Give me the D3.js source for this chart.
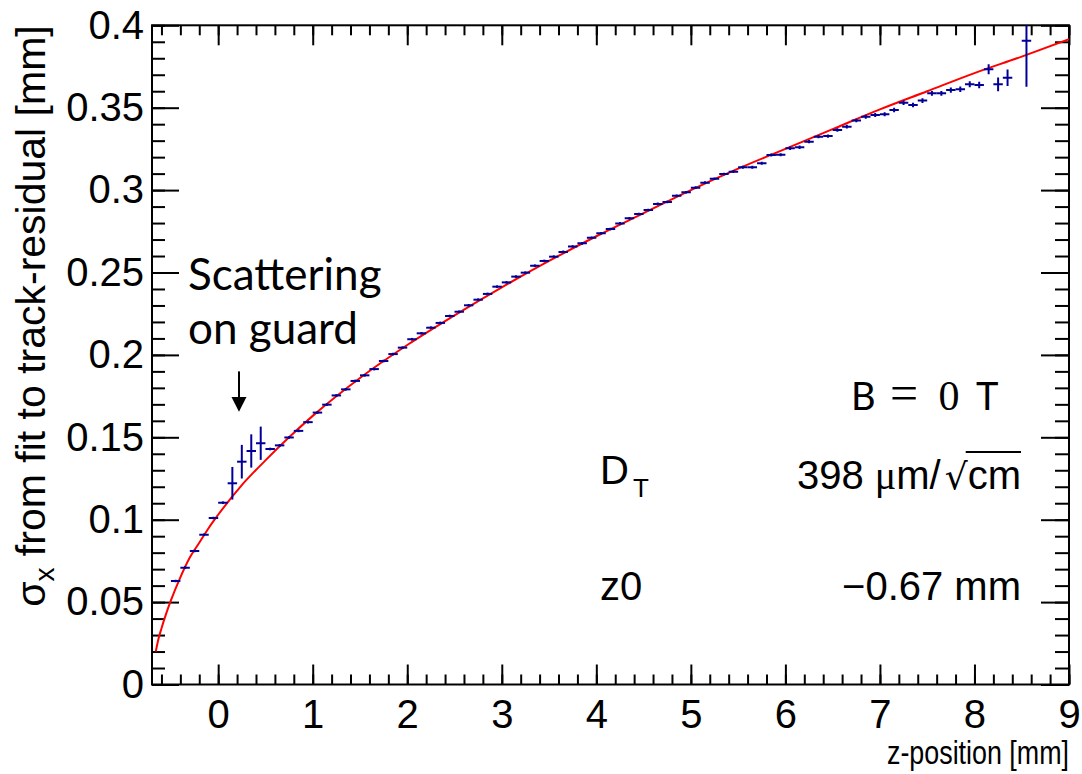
<!DOCTYPE html>
<html>
<head>
<meta charset="utf-8">
<script src="https://cdn.jsdelivr.net/npm/d3@7"></script>
<style>
  body { margin: 0; background: #fff; }
  svg { display: block; }
  .tick line { stroke: #000; stroke-width: 2; }
  .tick text { font-family: "Liberation Sans", Arial, sans-serif; font-size: 40px; fill: #000; }
</style>
</head>
<body>
<script>
// bin centres (mm) and sigma values (mm)
var zBins = [-0.45, -0.35, -0.25, -0.15, -0.05, 0.05, 0.15, 0.25, 0.35, 0.45,
  0.55, 0.65, 0.75, 0.85, 0.95, 1.05, 1.15, 1.25, 1.35, 1.45,
  1.55, 1.65, 1.75, 1.85, 1.95, 2.05, 2.15, 2.25, 2.35, 2.45,
  2.55, 2.65, 2.75, 2.85, 2.95, 3.05, 3.15, 3.25, 3.35, 3.45,
  3.55, 3.65, 3.75, 3.85, 3.95, 4.05, 4.15, 4.25, 4.35, 4.45,
  4.55, 4.65, 4.75, 4.85, 4.95, 5.05, 5.15, 5.25, 5.35, 5.45,
  5.55, 5.65, 5.75, 5.85, 5.95, 6.05, 6.15, 6.25, 6.35, 6.45,
  6.55, 6.65, 6.75, 6.85, 6.95, 7.05, 7.15, 7.25, 7.35, 7.45,
  7.55, 7.65, 7.75, 7.85, 7.95, 8.05, 8.15, 8.25, 8.35, 8.55];
var sigma = [0.0628, 0.0709, 0.0810, 0.0909, 0.1010, 0.1103, 0.1221, 0.1352, 0.1417, 0.1464,
  0.1429, 0.1451, 0.1499, 0.1539, 0.1592, 0.1650, 0.1698, 0.1754, 0.1791, 0.1842,
  0.1876, 0.1914, 0.1963, 0.2005, 0.2044, 0.2095, 0.2131, 0.2165, 0.2194, 0.2236,
  0.2262, 0.2301, 0.2335, 0.2370, 0.2414, 0.2440, 0.2475, 0.2499, 0.2541, 0.2570,
  0.2596, 0.2625, 0.2658, 0.2677, 0.2711, 0.2738, 0.2764, 0.2798, 0.2829, 0.2855,
  0.2879, 0.2916, 0.2928, 0.2966, 0.2987, 0.3015, 0.3045, 0.3069, 0.3098, 0.3112,
  0.3138, 0.3138, 0.3163, 0.3213, 0.3215, 0.3254, 0.3260, 0.3294, 0.3324, 0.3328,
  0.3365, 0.3385, 0.3422, 0.3445, 0.3456, 0.3460, 0.3486, 0.3530, 0.3516, 0.3543,
  0.3587, 0.3587, 0.3607, 0.3612, 0.3642, 0.3638, 0.3733, 0.3642, 0.3682, 0.3907];
var sigmaErr = [0.0008, 0.0008, 0.0008, 0.0008, 0.0008, 0.0008, 0.0099, 0.0102, 0.0101, 0.0101,
  0.0008, 0.0008, 0.0008, 0.0008, 0.0008, 0.0008, 0.0008, 0.0008, 0.0008, 0.0008,
  0.0008, 0.0008, 0.0008, 0.0008, 0.0008, 0.0008, 0.0008, 0.0008, 0.0008, 0.0008,
  0.0008, 0.0008, 0.0008, 0.0008, 0.0008, 0.0008, 0.0008, 0.0008, 0.0008, 0.0008,
  0.0008, 0.0008, 0.0008, 0.0008, 0.0008, 0.0008, 0.0008, 0.0008, 0.0008, 0.0008,
  0.0008, 0.0008, 0.0008, 0.0008, 0.0008, 0.0008, 0.0008, 0.0008, 0.0008, 0.0008,
  0.0009, 0.0009, 0.0009, 0.0009, 0.0009, 0.0010, 0.0010, 0.0010, 0.0010, 0.0010,
  0.0011, 0.0011, 0.0011, 0.0012, 0.0012, 0.0012, 0.0013, 0.0013, 0.0014, 0.0014,
  0.0015, 0.0015, 0.0016, 0.0017, 0.0018, 0.0020, 0.0030, 0.0042, 0.0050, 0.0280];
var binWidth = 0.1;

// fit curve (z, sigma)
var fitZ = [-0.66, -0.63, -0.6, -0.55, -0.5, -0.4, -0.3, -0.2, -0.1, 0, 0.25, 0.5, 0.75, 1,
  1.5, 2, 2.5, 3, 3.5, 4, 4.5, 5, 5.5, 6, 6.5, 7, 7.5, 8, 8.5, 9];
var fitSigma = [0.020, 0.028, 0.034, 0.043, 0.051, 0.065, 0.077, 0.086, 0.095, 0.103, 0.121, 0.136,
  0.150, 0.163, 0.186, 0.206, 0.224, 0.241, 0.257, 0.272, 0.286, 0.300, 0.313, 0.325, 0.337,
  0.349, 0.360, 0.371, 0.381, 0.3915];

var xMajor = [0, 1, 2, 3, 4, 5, 6, 7, 8, 9];
var yMajor = [0, 0.05, 0.1, 0.15, 0.2, 0.25, 0.3, 0.35, 0.4];

var w = 1082, h = 774;
// note: "top" is taken by window.top, so frame edges get their own names
var frameL = 152, frameR = 1069, frameT = 25.3, frameB = 684.5;

var svg = d3.select("body").append("svg").attr("width", w).attr("height", h);

var x = d3.scaleLinear().domain([-0.7, 9]).range([frameL, frameR]);
var y = d3.scaleLinear().domain([0, 0.4]).range([frameB, frameT]);

// clip for the plotted things
svg.append("clipPath").attr("id", "frame")
  .append("rect").attr("x", frameL).attr("y", frameT)
  .attr("width", frameR - frameL).attr("height", frameB - frameT);

// axes, ROOT style: ticks inside on all four sides
function fmtY(d) { return d === 0 ? "0" : String(+d.toFixed(2)); }

svg.append("g").attr("transform", "translate(0," + frameB + ")")
  .call(d3.axisBottom(x).tickValues(x.ticks(50)).tickSize(-10).tickFormat(""));
svg.append("g").attr("transform", "translate(0," + frameB + ")")
  .call(d3.axisBottom(x).tickValues(xMajor).tickSize(-20).tickPadding(15).tickFormat(d3.format("d")));
svg.append("g").attr("transform", "translate(0," + frameT + ")")
  .call(d3.axisTop(x).tickValues(x.ticks(50)).tickSize(-10).tickFormat(""));
svg.append("g").attr("transform", "translate(0," + frameT + ")")
  .call(d3.axisTop(x).tickValues(xMajor).tickSize(-20).tickFormat(""));

svg.append("g").attr("transform", "translate(" + frameL + ",0)")
  .call(d3.axisLeft(y).tickValues(y.ticks(40)).tickSize(-13).tickFormat(""));
svg.append("g").attr("transform", "translate(" + frameL + ",0)")
  .call(d3.axisLeft(y).tickValues(yMajor).tickSize(-27).tickPadding(8).tickFormat(fmtY));
svg.append("g").attr("transform", "translate(" + frameR + ",0)")
  .call(d3.axisRight(y).tickValues(y.ticks(40)).tickSize(-14).tickFormat(""));
svg.append("g").attr("transform", "translate(" + frameR + ",0)")
  .call(d3.axisRight(y).tickValues(yMajor).tickSize(-28).tickFormat(""));

svg.selectAll(".domain").remove();

// frame
svg.append("rect")
  .attr("x", frameL).attr("y", frameT)
  .attr("width", frameR - frameL).attr("height", frameB - frameT)
  .attr("fill", "none").attr("stroke", "#000").attr("stroke-width", 2);

var plot = svg.append("g").attr("clip-path", "url(#frame)");

// fit line
var fitData = fitZ.map(function(z, i) { return [z, fitSigma[i]]; });
plot.append("path")
  .datum(fitData)
  .attr("fill", "none")
  .attr("stroke", "#ff0000")
  .attr("stroke-width", 2)
  .attr("d", d3.line()
    .x(function(d) { return x(d[0]); })
    .y(function(d) { return y(d[1]); })
    .curve(d3.curveMonotoneX));

// data points with error bars
var pts = plot.selectAll("g.pt")
  .data(zBins)
  .enter().append("g").attr("class", "pt");

pts.append("line")
  .attr("x1", function(d) { return x(d - binWidth / 2); })
  .attr("x2", function(d) { return x(d + binWidth / 2); })
  .attr("y1", function(d, i) { return y(sigma[i]); })
  .attr("y2", function(d, i) { return y(sigma[i]); })
  .attr("stroke", "#000099").attr("stroke-width", 2);

pts.append("line")
  .attr("x1", function(d) { return x(d); })
  .attr("x2", function(d) { return x(d); })
  .attr("y1", function(d, i) { return y(sigma[i] - sigmaErr[i]); })
  .attr("y2", function(d, i) { return y(sigma[i] + sigmaErr[i]); })
  .attr("stroke", "#000099").attr("stroke-width", 2);

// axis titles
svg.append("text")
  .attr("x", frameR).attr("y", 764)
  .attr("text-anchor", "end")
  .attr("textLength", 182)
  .attr("lengthAdjust", "spacingAndGlyphs")
  .style("font-family", "Liberation Sans, Arial, sans-serif")
  .style("font-size", "34px")
  .text("z-position [mm]");

var yt = svg.append("text")
  .attr("transform", "translate(45," + frameT + ") rotate(-90)")
  .attr("text-anchor", "end")
  .style("font-family", "Liberation Sans, Arial, sans-serif")
  .style("font-size", "41px");
yt.append("tspan").text("σ");
yt.append("tspan").attr("dy", 9).style("font-size", "28px").text("x");
yt.append("tspan").attr("dy", -9).text(" from fit to track-residual [mm]");

// annotation: scattering on guard
var ann = svg.append("g")
  .style("font-family", "Lato, 'Open Sans', sans-serif")
  .style("font-size", "44px");
ann.append("text").attr("x", 188).attr("y", 290).text("Scattering");
ann.append("text").attr("x", 188).attr("y", 344).text("on guard");

var ax = x(0.22);
svg.append("line")
  .attr("x1", ax).attr("x2", ax)
  .attr("y1", y(0.19)).attr("y2", y(0.1735))
  .attr("stroke", "#000").attr("stroke-width", 2);
svg.append("path")
  .attr("d", "M" + (ax - 7.5) + "," + y(0.1745) + "L" + (ax + 7.5) + "," + y(0.1745) +
    "L" + ax + "," + y(0.1655) + "Z")
  .attr("fill", "#000");

// B = 0 T
var bt = svg.append("g");
bt.append("text").attr("x", 851).attr("y", 410)
  .style("font-family", "Lato, sans-serif").style("font-size", "38px").text("B");
bt.append("text").attr("x", 904).attr("y", 410).attr("text-anchor", "middle")
  .style("font-family", "Liberation Serif, serif").style("font-size", "50px").text("=");
bt.append("text").attr("x", 949).attr("y", 410).attr("text-anchor", "middle")
  .style("font-family", "Liberation Serif, serif").style("font-size", "42px").text("0");
bt.append("text").attr("x", 976).attr("y", 410)
  .style("font-family", "Lato, sans-serif").style("font-size", "38px").text("T");

// fit parameters
var par = svg.append("g")
  .style("font-family", "Liberation Sans, Arial, sans-serif")
  .style("font-size", "40px");
par.append("text").attr("x", 600).attr("y", 484).text("D");
par.append("text").attr("x", 633).attr("y", 497).style("font-size", "26px").text("T");
par.append("text").attr("x", 600).attr("y", 600).text("z0");
par.append("text").attr("x", 1021).attr("y", 600).attr("text-anchor", "end").text("\u22120.67 mm");

var cm = par.append("text").attr("x", 1021).attr("y", 489).attr("text-anchor", "end").text("cm");
var cmBox = cm.node().getBBox();
var rt = par.append("text").attr("x", cmBox.x).attr("y", 489).attr("text-anchor", "end")
  .style("font-family", "DejaVu Sans, sans-serif").style("font-size", "36px").text("\u221a");
var rtBox = rt.node().getBBox();
var mu = par.append("text").attr("x", rtBox.x - 4).attr("y", 489).attr("text-anchor", "end");
mu.append("tspan").text("398 ");
mu.append("tspan").style("font-family", "Liberation Serif, serif").text("\u03bc");
mu.append("tspan").text("m/");
par.append("line")
  .attr("x1", rtBox.x + rtBox.width - 2).attr("x2", cmBox.x + cmBox.width)
  .attr("y1", 452).attr("y2", 452)
  .attr("stroke", "#000").attr("stroke-width", 2);
</script>
</body>
</html>
